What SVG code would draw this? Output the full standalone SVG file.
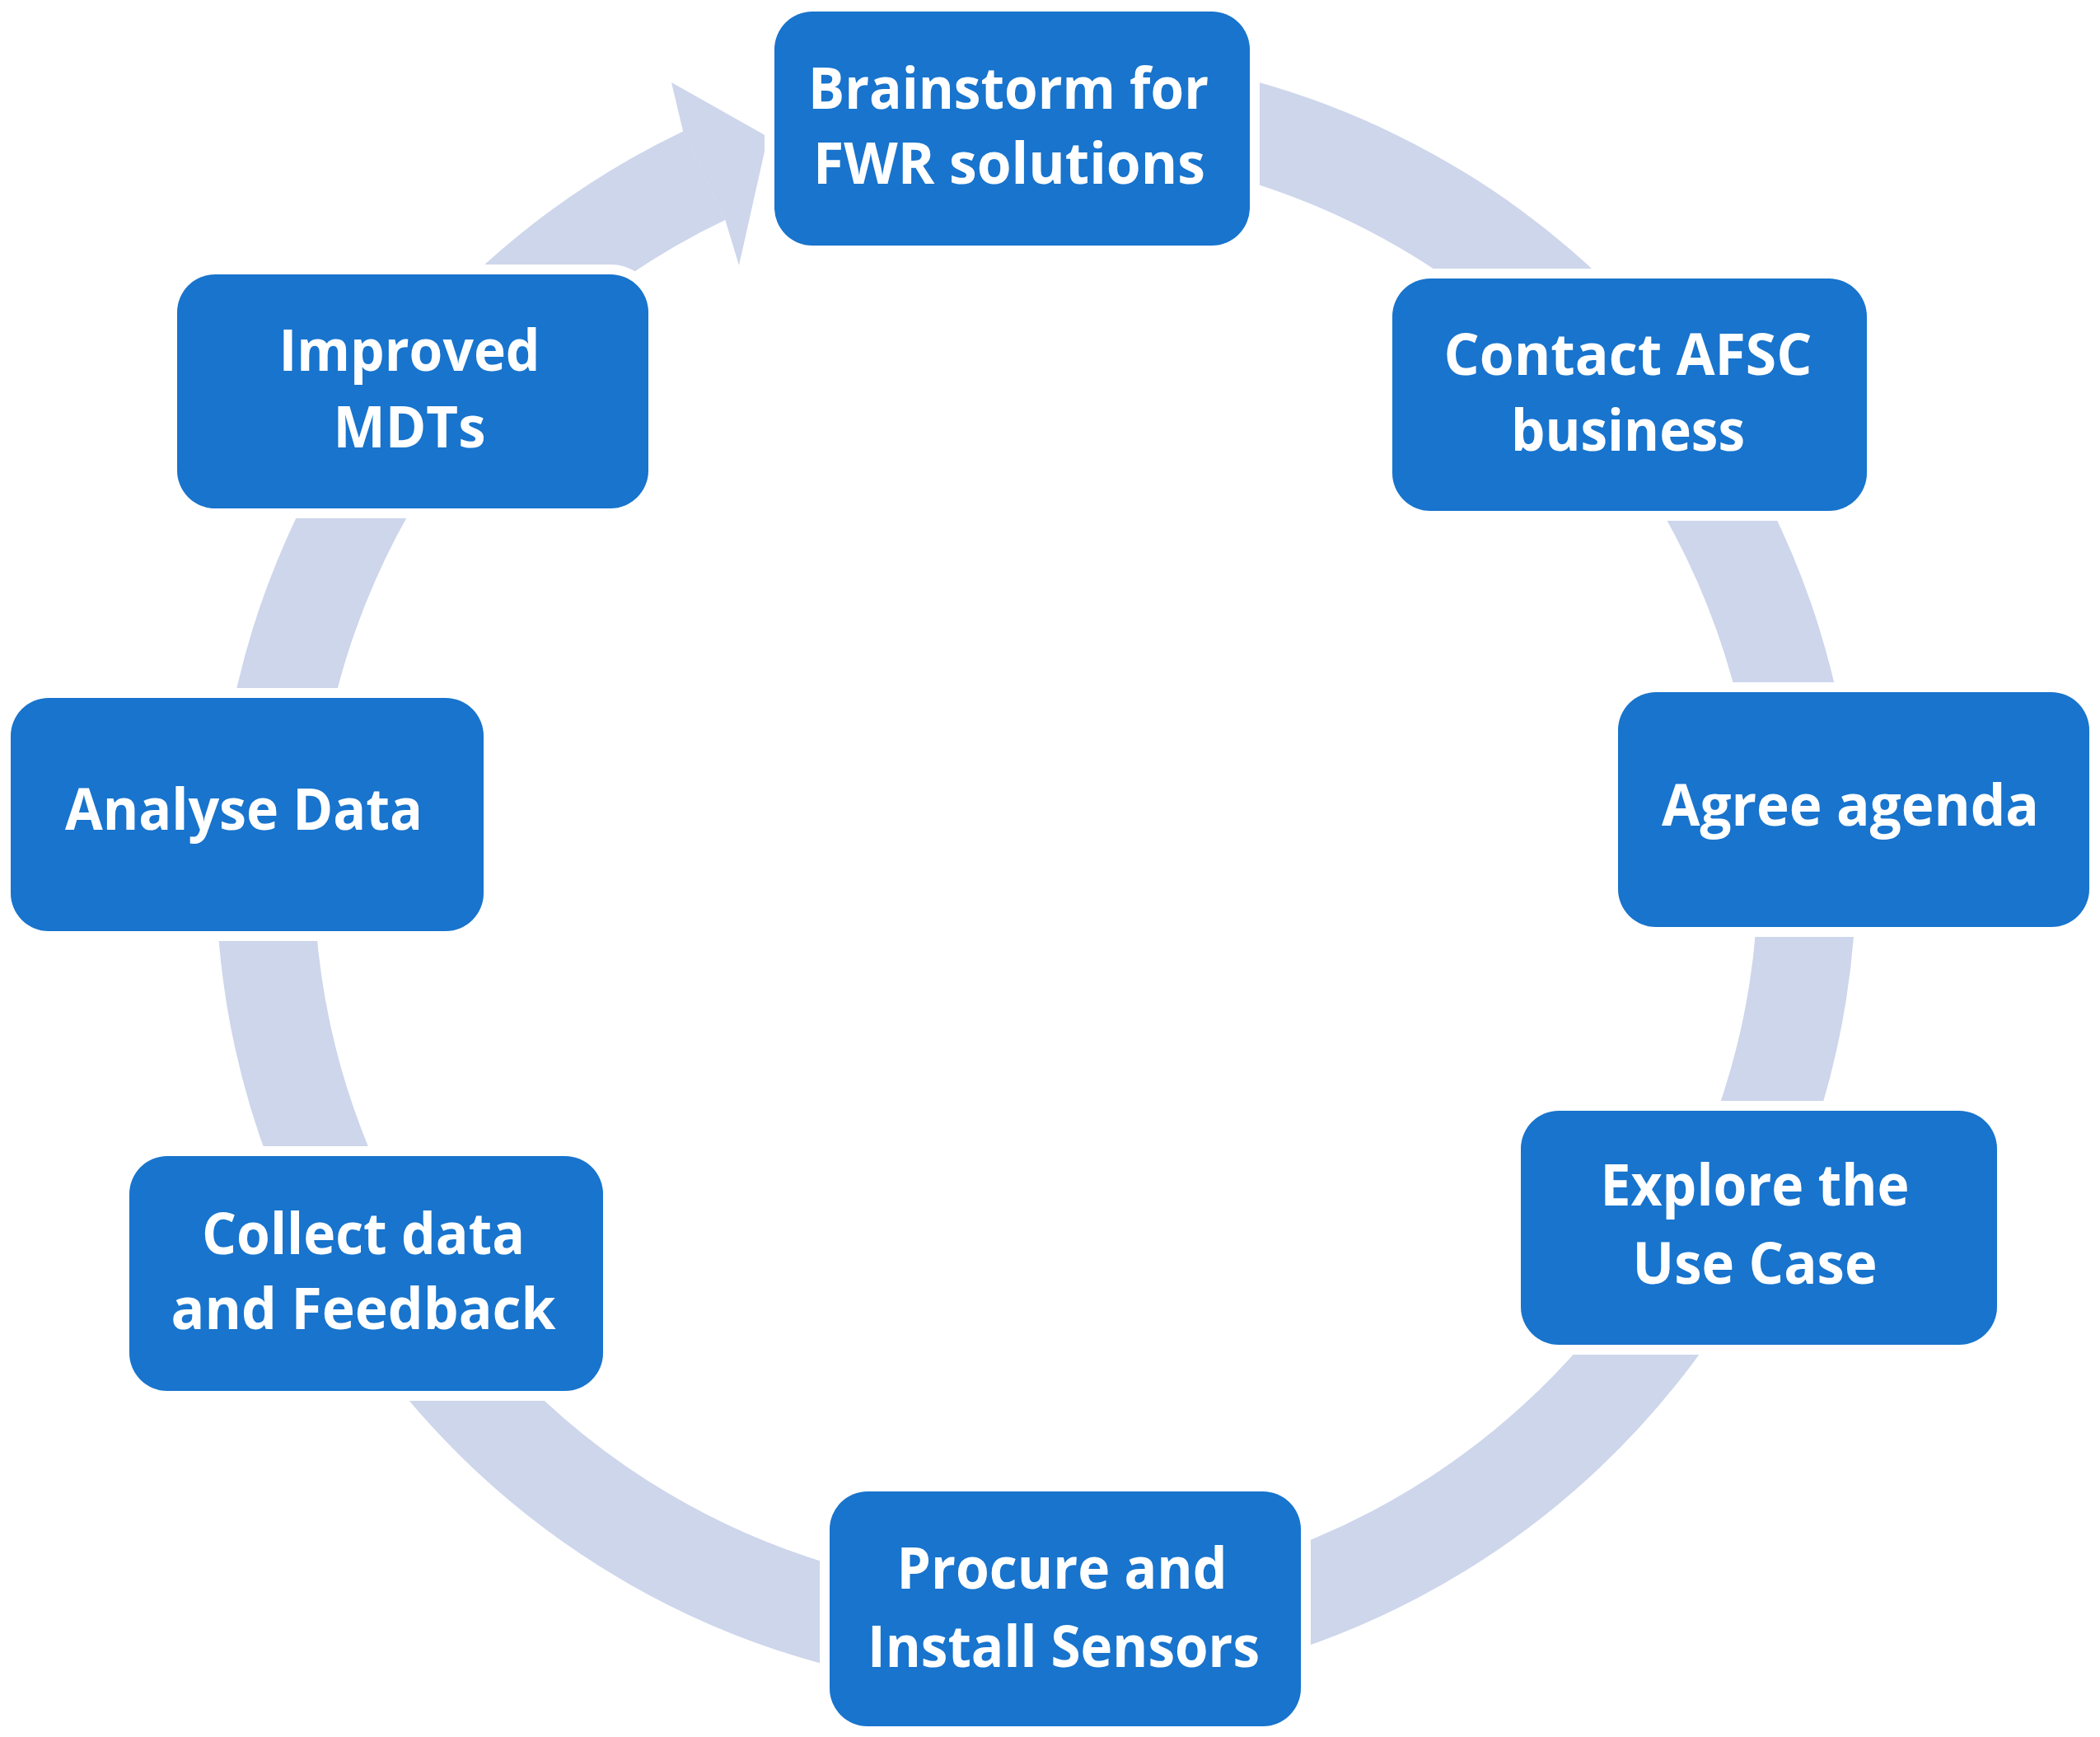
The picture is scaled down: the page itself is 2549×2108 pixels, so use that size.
<svg xmlns="http://www.w3.org/2000/svg" width="2549" height="2108" viewBox="0 0 2549 2108">
  <style>
    .halo { fill: #ffffff; }
    .box { fill: #1874CD; }
    .lbl { fill: #ffffff; font-family: "Open Sans", "Liberation Sans", sans-serif; font-weight: 700; font-size: 69px; text-anchor: middle; }
    .ring { fill: none; stroke: #CDD6EB; stroke-width: 119; stroke-linecap: butt; }
    .head { fill: #CDD6EB; }
  </style>
  <rect x="0" y="0" width="2549" height="2108" fill="#ffffff"/>
  <g id="connectors">
    <!-- ring from top (0deg) clockwise to -25.5deg; center (1258,1058), r 936 -->
    <path class="ring" d="M 1258 122 A 936 936 0 1 1 855 213"/>
    <polygon class="head" points="829,159 815,100 932,166 897,322 880,266"/>
  </g>
  <g id="node-brainstorm">
    <rect class="halo" x="928" y="2" width="601" height="308" rx="58"/>
    <rect class="box" x="940" y="14" width="577" height="284" rx="46"/>
    <text class="lbl" x="1224" y="132" textLength="486" lengthAdjust="spacingAndGlyphs">Brainstorm for</text>
    <text class="lbl" x="1225" y="223" textLength="476" lengthAdjust="spacingAndGlyphs">FWR solutions</text>
  </g>
  <g id="node-contact">
    <rect class="halo" x="1678" y="326" width="600" height="306" rx="58"/>
    <rect class="box" x="1690" y="338" width="576" height="282" rx="46"/>
    <text class="lbl" x="1976" y="455" textLength="447" lengthAdjust="spacingAndGlyphs">Contact AFSC</text>
    <text class="lbl" x="1976" y="547" textLength="284" lengthAdjust="spacingAndGlyphs">business</text>
  </g>
  <g id="node-agree">
    <rect class="halo" x="1952" y="828" width="596" height="309" rx="58"/>
    <rect class="box" x="1964" y="840" width="572" height="285" rx="46"/>
    <text class="lbl" x="2246" y="1002" textLength="458" lengthAdjust="spacingAndGlyphs">Agree agenda</text>
  </g>
  <g id="node-explore">
    <rect class="halo" x="1834" y="1336" width="602" height="308" rx="58"/>
    <rect class="box" x="1846" y="1348" width="578" height="284" rx="46"/>
    <text class="lbl" x="2130" y="1463" textLength="375" lengthAdjust="spacingAndGlyphs">Explore the</text>
    <text class="lbl" x="2130" y="1558" textLength="297" lengthAdjust="spacingAndGlyphs">Use Case</text>
  </g>
  <g id="node-procure">
    <rect class="halo" x="995" y="1798" width="596" height="309" rx="58"/>
    <rect class="box" x="1007" y="1810" width="572" height="285" rx="46"/>
    <text class="lbl" x="1289" y="1928" textLength="401" lengthAdjust="spacingAndGlyphs">Procure and</text>
    <text class="lbl" x="1291" y="2023" textLength="476" lengthAdjust="spacingAndGlyphs">Install Sensors</text>
  </g>
  <g id="node-collect">
    <rect class="halo" x="145" y="1391" width="599" height="309" rx="58"/>
    <rect class="box" x="157" y="1403" width="575" height="285" rx="46"/>
    <text class="lbl" x="441" y="1522" textLength="392" lengthAdjust="spacingAndGlyphs">Collect data</text>
    <text class="lbl" x="441" y="1613" textLength="467" lengthAdjust="spacingAndGlyphs">and Feedback</text>
  </g>
  <g id="node-analyse">
    <rect class="halo" x="1" y="835" width="598" height="307" rx="58"/>
    <rect class="box" x="13" y="847" width="574" height="283" rx="46"/>
    <text class="lbl" x="296" y="1007" textLength="434" lengthAdjust="spacingAndGlyphs">Analyse Data</text>
  </g>
  <g id="node-improved">
    <rect class="halo" x="203" y="321" width="596" height="308" rx="58"/>
    <rect class="box" x="215" y="333" width="572" height="284" rx="46"/>
    <text class="lbl" x="497" y="450" textLength="317" lengthAdjust="spacingAndGlyphs">Improved</text>
    <text class="lbl" x="497" y="543" textLength="185" lengthAdjust="spacingAndGlyphs">MDTs</text>
  </g>
</svg>
